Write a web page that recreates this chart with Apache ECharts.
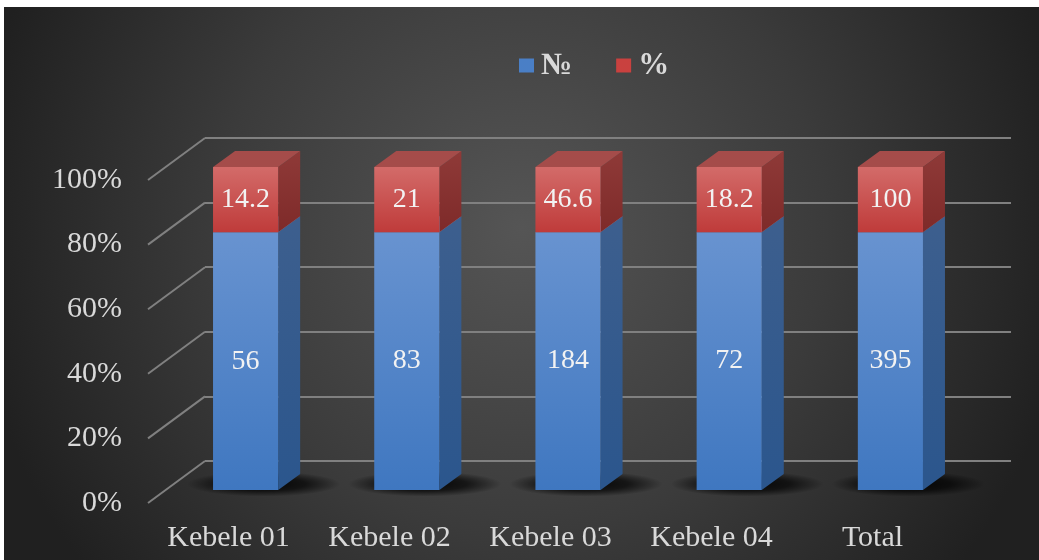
<!DOCTYPE html>
<html>
<head>
<meta charset="utf-8">
<script src="https://cdn.jsdelivr.net/npm/echarts@6/dist/echarts.min.js"></script>
<style>
html,body{margin:0;padding:0;background:#fff;}
#wrap{width:1039px;height:560px;background:#fff;position:relative;overflow:hidden;}
#chart{position:absolute;left:4px;top:7px;width:1035px;height:553px;}
</style>
</head>
<body>
<div id="wrap"><div id="chart"></div></div>
<script>
const categories = ['Kebele 01', 'Kebele 02', 'Kebele 03', 'Kebele 04', 'Total'];
const countValues = [56, 83, 184, 72, 395];
const percentValues = [14.2, 21, 46.6, 18.2, 100];
const yTicks = [0, 20, 40, 60, 80, 100];
const seriesNames = ['№', '%'];

// 100% stacked shares
const countShare = countValues.map((v, i) => v / (v + percentValues[i]) * 100);

const FONT = '"Liberation Serif", "Times New Roman", serif';
const DX = 22, DY = -16;          // bar depth
const WALL_DX = 57, WALL_DY = -42; // floor/wall depth

const palette = {
  '№': {
    front: ['#6893d0', '#3f77c0'],
    side: ['#3d5f8e', '#2b568d'],
    top: '#7ea3d6',
    legend: '#4a7fc6'
  },
  '%': {
    front: ['#d36b69', '#bf3b3a'],
    side: ['#8f3a38', '#7e2a29'],
    top: '#a54c4a',
    legend: '#c9413f'
  }
};

function makeCuboid(name, isBottom) {
  const pal = palette[name];
  return function (params, api) {
    const cat = api.value(0);
    const lo = api.coord([cat, api.value(1)]);
    const hi = api.coord([cat, api.value(2)]);
    const w = api.size([1, 0])[0] * 0.404;
    const left = lo[0] - w / 2, right = lo[0] + w / 2;
    const yb = lo[1], yt = hi[1];
    const children = [];
    if (isBottom) {
      const cx = lo[0] + 18, cy = yb - 6, r = 12;
      children.push({
        type: 'circle',
        shape: { cx: cx, cy: cy, r: r },
        scaleX: (w / 2 + 44) / r, scaleY: 1.05,
        originX: cx, originY: cy,
        style: { fill: new echarts.graphic.RadialGradient(0.5, 0.5, 0.5, [
          { offset: 0, color: 'rgba(0,0,0,0.9)' },
          { offset: 0.55, color: 'rgba(0,0,0,0.65)' },
          { offset: 1, color: 'rgba(0,0,0,0)' }
        ]) },
        silent: true
      });
    }
    children.push({
      type: 'polygon',
      shape: { points: [[right, yt], [right + DX, yt + DY], [right + DX, yb + DY], [right, yb]] },
      style: { fill: new echarts.graphic.LinearGradient(0, 0, 0, 1, [{ offset: 0, color: pal.side[0] }, { offset: 1, color: pal.side[1] }]) }
    });
    children.push({
      type: 'polygon',
      shape: { points: [[left, yt], [left + DX, yt + DY], [right + DX, yt + DY], [right, yt]] },
      style: { fill: pal.top }
    });
    children.push({
      type: 'rect',
      shape: { x: left, y: yt, width: w, height: yb - yt },
      style: { fill: new echarts.graphic.LinearGradient(0, 0, 0, 1, [{ offset: 0, color: pal.front[0] }, { offset: 1, color: pal.front[1] }]) }
    });
    children.push({
      type: 'text',
      style: {
        text: String(api.value(3)),
        x: lo[0], y: (yt + yb) / 2,
        align: 'center', verticalAlign: 'middle',
        fill: '#f2f2f2', font: '28px ' + FONT
      }
    });
    return { type: 'group', children: children };
  };
}

const chart = echarts.init(document.getElementById('chart'));
chart.setOption({
  animation: false,
  backgroundColor: {
    type: 'radial', x: 0.5, y: 0.4, r: 1.0,
    colorStops: [{ offset: 0, color: '#555555' }, { offset: 0.55, color: '#3b3b3b' }, { offset: 1, color: '#202020' }]
  },
  legend: {
    data: seriesNames,
    left: 515, top: 43, padding: 0,
    icon: 'rect', itemWidth: 15, itemHeight: 14, itemGap: 44,
    textStyle: { color: '#d9d9d9', fontFamily: FONT, fontWeight: 'bold', fontSize: 31, padding: [0, 0, 0, 2] }
  },
  grid: [
    { left: 201, top: 131, width: 806, height: 323 },   // back wall
    { left: 144, top: 173, width: 805, height: 323 },   // front plane
    { left: 161, top: 160, width: 806, height: 323 }    // bars
  ],
  xAxis: [
    { gridIndex: 0, type: 'category', data: categories, show: false },
    { gridIndex: 1, type: 'category', data: categories,
      axisLine: { show: false }, axisTick: { show: false },
      axisLabel: { color: '#d9d9d9', fontFamily: FONT, fontSize: 30, margin: 20 } },
    { gridIndex: 2, type: 'category', data: categories, show: false }
  ],
  yAxis: [
    { gridIndex: 0, type: 'value', min: 0, max: 100, interval: 20,
      axisLabel: { show: false }, axisLine: { show: false }, axisTick: { show: false },
      splitLine: { lineStyle: { color: '#808080', width: 2 } } },
    { gridIndex: 1, type: 'value', min: 0, max: 100, interval: 20,
      axisLine: { show: false }, axisTick: { show: false }, splitLine: { show: false },
      axisLabel: { color: '#d9d9d9', fontFamily: FONT, fontSize: 30, margin: 26, formatter: '{value}%' } },
    { gridIndex: 2, type: 'value', min: 0, max: 100, show: false }
  ],
  series: [
    {
      type: 'custom', name: 'wall', xAxisIndex: 1, yAxisIndex: 1, silent: true,
      data: yTicks.map(v => [0, v]),
      renderItem: function (params, api) {
        const p = api.coord([0, api.value(1)]);
        const x0 = params.coordSys.x;
        return { type: 'line', shape: { x1: x0, y1: p[1], x2: x0 + WALL_DX, y2: p[1] + WALL_DY },
          style: { stroke: '#808080', lineWidth: 2 } };
      }
    },
    {
      type: 'custom', name: '№', xAxisIndex: 2, yAxisIndex: 2,
      itemStyle: { color: palette['№'].legend },
      data: categories.map((c, i) => [i, 0, countShare[i], countValues[i]]),
      renderItem: makeCuboid('№', true)
    },
    {
      type: 'custom', name: '%', xAxisIndex: 2, yAxisIndex: 2,
      itemStyle: { color: palette['%'].legend },
      data: categories.map((c, i) => [i, countShare[i], 100, percentValues[i]]),
      renderItem: makeCuboid('%', false)
    }
  ]
});
</script>
</body>
</html>
